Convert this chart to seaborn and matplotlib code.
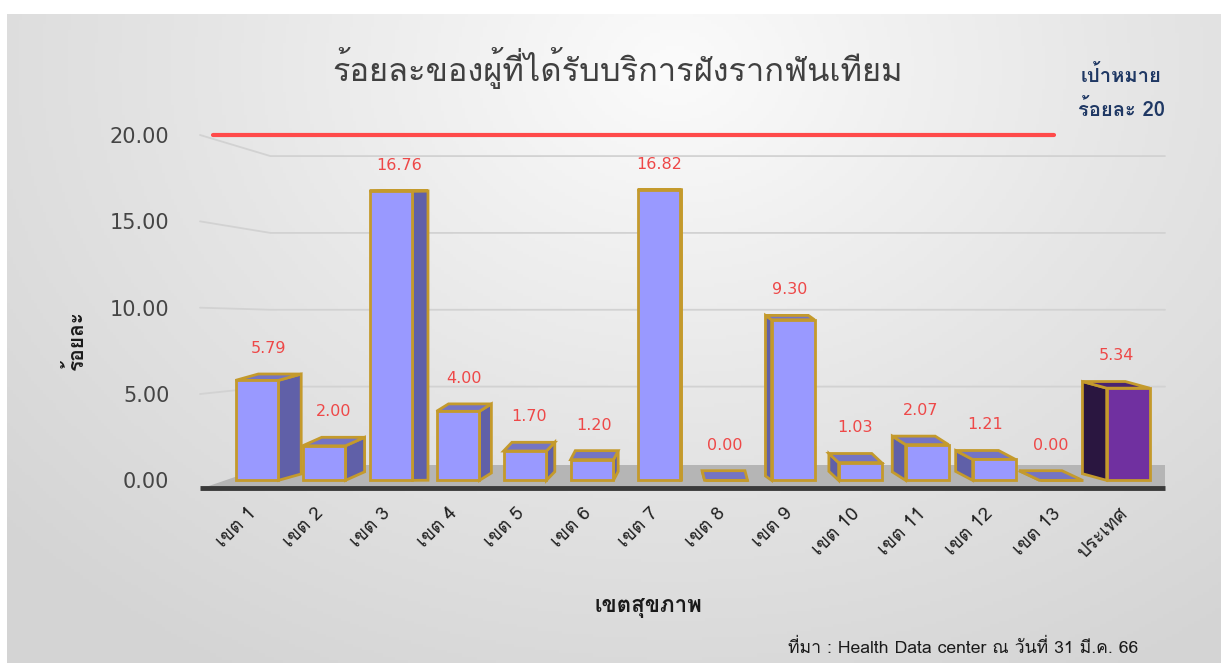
import matplotlib
matplotlib.use("Agg")
import matplotlib.pyplot as plt
import matplotlib.transforms as mtrans
import seaborn as sns
import pandas as pd
import numpy as np
from matplotlib.patches import Polygon
from matplotlib import font_manager as fm

# ---------------- data ----------------
categories = ["เขต 1", "เขต 2", "เขต 3", "เขต 4", "เขต 5", "เขต 6", "เขต 7",
              "เขต 8", "เขต 9", "เขต 10", "เขต 11", "เขต 12", "เขต 13", "ประเทศ"]
values = [5.79, 2.00, 16.76, 4.00, 1.70, 1.20, 16.82,
          0.00, 9.30, 1.03, 2.07, 1.21, 0.00, 5.34]
target = 20
yticks = [0, 5, 10, 15, 20]
title = "ร้อยละของผู้ที่ได้รับบริการฝังรากฟันเทียม"
target_line1 = "เป้าหมาย"
target_line2 = "ร้อยละ 20"
xlabel = "เขตสุขภาพ"
ylabel = "ร้อยละ"
source = "ที่มา : Health Data center ณ วันที่ 31 มี.ค. 66"

# ---------------- fonts ----------------
thai_font = None
try:
    from fontTools.ttLib import TTFont
    for f in fm.fontManager.ttflist:
        try:
            tt = TTFont(f.fname, fontNumber=0, lazy=True)
            cm = tt.getBestCmap()
            if cm and 0x0E01 in cm and 0x0E49 in cm:
                thai_font = f.name
                break
        except Exception:
            pass
except Exception:
    pass

sns.set_theme(style="white")
fams = ([thai_font] if thai_font else []) + ["DejaVu Sans"]
plt.rcParams["font.family"] = fams

df = pd.DataFrame({"cat": categories, "val": values})

W, H = 1221, 663
fig = plt.figure(figsize=(W / 100, H / 100), dpi=100)
fig.patch.set_facecolor("white")
# background panel with soft gradient (white frame on left/top)
bg = fig.add_axes([7 / W, 0, 1 - 7 / W, 1 - 14 / H], zorder=-10)
yy, xx = np.mgrid[0:1:200j, 0:1:400j]
r = np.sqrt(((xx - 0.55) / 0.75) ** 2 + ((yy - 0.92) / 1.1) ** 2)
bg.imshow(np.clip(r, 0, 1), cmap=matplotlib.colors.LinearSegmentedColormap.from_list(
    "g", ["#FBFBFB", "#E6E6E6", "#D4D4D4"]), aspect="auto", extent=[0, 1, 0, 1],
    origin="lower")
bg.axis("off")

# axes: x from 200px to 1165px, y from 489px (bottom) to 135px (=20)
ax = fig.add_axes([200 / W, (H - 489) / H, 965 / W, (489 - 135) / H])
ax.patch.set_alpha(0)

front = ["#9999FF"] * (len(categories) - 1) + ["#7030A0"]
side = ["#6060A8"] * (len(categories) - 1) + ["#2A1640"]
topc = ["#7474C4"] * (len(categories) - 1) + ["#4A2470"]
edge = "#C49A2C"

sns.barplot(data=df, x="cat", y="val", hue="cat", palette=front, legend=False,
            width=0.64, edgecolor=edge, linewidth=2, ax=ax, saturation=1)

ax.set_xlim(-0.85, 13.55)
ax.set_ylim(-0.5, 20)

# floor (decoration)
ax.add_patch(Polygon([(0.2, 0.9), (13.55, 0.9), (13.55, -0.5), (-0.85, -0.5)],
                     closed=True, facecolor="#B5B5B5", edgecolor="none",
                     zorder=1))
ax.plot([-0.85, 13.55], [-0.45, -0.45], color="#3A3A3A", lw=3.5, zorder=5,
        clip_on=False, solid_capstyle="butt")

# back-wall gridlines (decoration)
for t in yticks[1:]:
    tb = 0.98 + 0.89 * t
    ax.plot([-0.85, 0.2, 13.55], [t, tb, tb], color="#D2D2D2", lw=1.3, zorder=0,
            clip_on=False)

center = 6.3
for i, p in enumerate(ax.patches[:len(values)]):
    x0, w, h = p.get_x(), p.get_width(), p.get_height()
    dx = (center - i) * 0.054
    dy = max(0.0, 0.56 * (1 - h / 17.0))
    p.set_zorder(4)
    if dx >= 0:
        sp = [(x0 + w, 0), (x0 + w + dx, dy), (x0 + w + dx, h + dy), (x0 + w, h)]
    else:
        sp = [(x0, 0), (x0 + dx, dy), (x0 + dx, h + dy), (x0, h)]
    tp = [(x0, h), (x0 + w, h), (x0 + w + dx, h + dy), (x0 + dx, h + dy)]
    ax.add_patch(Polygon(sp, closed=True, facecolor=side[i], edgecolor=edge,
                         linewidth=2, zorder=3))
    ax.add_patch(Polygon(tp, closed=True, facecolor=topc[i], edgecolor=edge,
                         linewidth=2, zorder=3))
    ax.annotate(f"{values[i]:.2f}", (x0 + w / 2 + dx / 2, h + dy),
                xytext=(0, 13), textcoords="offset points", ha="center",
                va="bottom", color="#EE4848", fontsize=11.5,
                family=["DejaVu Sans"], zorder=6)

# target line
ax.plot([-0.65, 11.9], [target, target], color="#FF4A4A", lw=3, zorder=6,
        clip_on=False)

ax.set_yticks(yticks)
ax.set_yticklabels([f"{t:.2f}" for t in yticks], fontsize=15, color="#454545",
                   family=["DejaVu Sans"])
ax.tick_params(axis="y", length=0, pad=22)
ax.tick_params(axis="x", length=0, pad=11)
ax.set_xticks(range(len(categories)))
ax.set_xticklabels(categories, rotation=45, ha="right", rotation_mode="anchor",
                   fontsize=13.5, color="#202020")
shift = mtrans.ScaledTranslation(-10 / 100, 0, fig.dpi_scale_trans)
for lab in ax.get_xticklabels():
    lab.set_transform(lab.get_transform() + shift)

ax.set_xlabel(xlabel, fontsize=16, fontweight="bold", color="#1A1A1A")
ax.xaxis.set_label_coords((648 - 200) / 965, -(608 - 489) / 354)
ax.xaxis.label.set_va("center")
ax.set_ylabel(ylabel, fontsize=15, fontweight="bold", color="#1A1A1A")
ax.yaxis.set_label_coords((75 - 200) / 965, (489 - 340) / 354)
ax.yaxis.label.set_va("center")
for s in ax.spines.values():
    s.set_visible(False)

fig.text(618 / W, 1 - 68 / H, title, ha="center", va="center", fontsize=23.5,
         color="#404040")
fig.text(1121 / W, 1 - 75 / H, target_line1, ha="center", va="center",
         fontsize=14.5, fontweight="bold", color="#1F3864")
fig.text(1121 / W, 1 - 110 / H, target_line2, ha="center", va="center",
         fontsize=14.5, fontweight="bold", color="#1F3864")
fig.text(1138 / W, 1 - 648 / H, source, ha="right", va="center", fontsize=12.7,
         color="#1A1A1A")

fig.savefig("out.png", dpi=100, facecolor=fig.get_facecolor())
